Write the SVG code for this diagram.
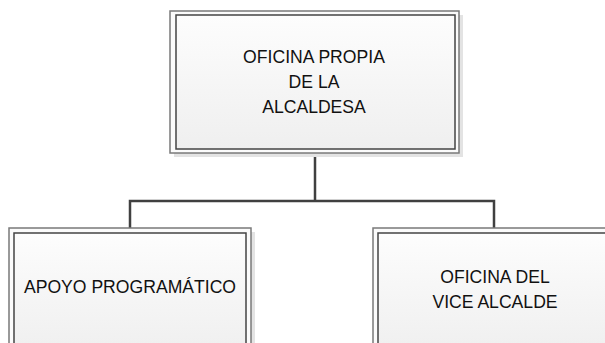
<svg xmlns="http://www.w3.org/2000/svg" width="605" height="343" viewBox="0 0 605 343">
<style>
.shadow{fill:#e3e3e3;stroke:none}
.outer{fill:#fbfbfb;stroke:#7a7a7a;stroke-width:1.5}
.inner{fill:url(#g);stroke:#444;stroke-width:1.5}
.t{font-family:"Liberation Sans",Arial,sans-serif;font-size:17.6px;fill:#111;text-anchor:middle}
.c{fill:none;stroke:#404040;stroke-width:2.5}
</style>
<defs>
<linearGradient id="g" x1="0" y1="0" x2="0" y2="1">
<stop offset="0" stop-color="#fdfdfd"/>
<stop offset="1" stop-color="#efefef"/>
</linearGradient>
</defs>
<rect width="605" height="343" fill="#fff"/>
<g id="connectors">
<path class="c" d="M315 153 V201 M130 229 V201 H494 V229"/>
</g>
<g id="top">
<rect class="shadow" x="174" y="15" width="289" height="142"/>
<rect class="outer" x="170" y="11" width="289" height="142"/>
<rect class="inner" x="176" y="15" width="279" height="134"/>
<text class="t" x="314" y="63">OFICINA PROPIA</text>
<text class="t" x="314" y="88">DE LA</text>
<text class="t" x="314" y="113">ALCALDESA</text>
</g>
<g id="apoyo">
<rect class="shadow" x="13" y="232" width="242" height="120"/>
<rect class="outer" x="9" y="228" width="242" height="120"/>
<rect class="inner" x="14" y="233" width="232" height="120"/>
<text class="t" x="130" y="293">APOYO PROGRAMÁTICO</text>
</g>
<g id="vice">
<rect class="shadow" x="377" y="232" width="242" height="120"/>
<rect class="outer" x="373" y="228" width="242" height="120"/>
<rect class="inner" x="378" y="233" width="232" height="120"/>
<text class="t" x="495" y="283">OFICINA DEL</text>
<text class="t" x="495" y="308">VICE ALCALDE</text>
</g>
</svg>
